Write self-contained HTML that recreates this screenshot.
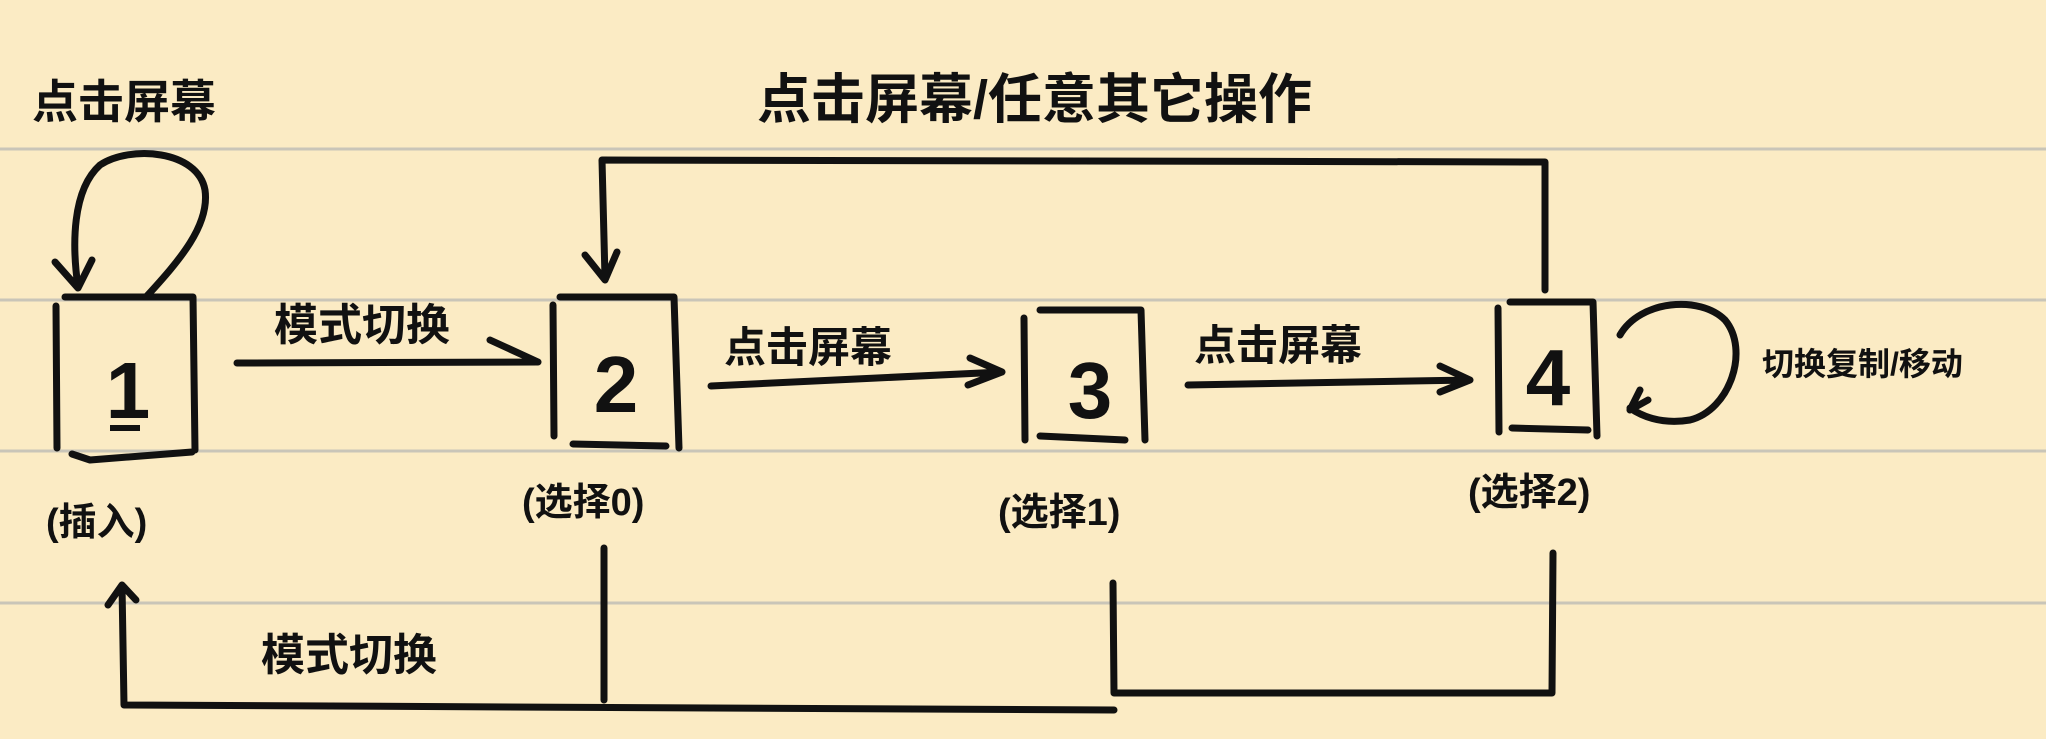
<!DOCTYPE html>
<html><head><meta charset="utf-8"><style>
html,body{margin:0;padding:0;background:#fbebc4;}
svg{display:block}
text{font-family:"Liberation Sans","Noto Sans CJK SC",sans-serif;font-weight:bold;fill:#111}
</style></head><body>
<svg width="2046" height="739" viewBox="0 0 2046 739" xmlns="http://www.w3.org/2000/svg">
<rect width="2046" height="739" fill="#fbebc4"/>
<g stroke="#c9c5b8" stroke-width="3">
<line x1="0" y1="149" x2="2046" y2="149"/>
<line x1="0" y1="300" x2="2046" y2="300"/>
<line x1="0" y1="451" x2="2046" y2="451"/>
<line x1="0" y1="603" x2="2046" y2="603"/>
</g>
<g stroke="#111" stroke-width="7" fill="none" stroke-linecap="round" stroke-linejoin="round">
<!-- box1 -->
<path d="M56 306 L57 448 M65 297 L193 297 L195 450 M72 454 L90 460 L192 452"/>
<!-- box2 -->
<path d="M553 305 L554 436 M560 297 L674 297 L679 448 M573 444 L666 446"/>
<!-- box3 -->
<path d="M1024 318 L1025 440 M1040 310 L1141 310 L1145 440 M1040 436 L1125 440"/>
<!-- box4 -->
<path d="M1498 308 L1499 432 M1510 302 L1593 302 L1597 436 M1512 428 L1588 430"/>
<!-- self loop 1 -->
<path d="M146 297 C180 260 210 225 205 190 C198 150 130 145 100 165 C72 190 72 245 78 287 M55 262 L78 288 L92 260"/>
<!-- arrow 1->2 -->
<path d="M237 363 L538 362 M490 340 L538 362"/>
<!-- top loop -->
<path d="M1545 290 L1545 162 L602 160 L605 278 M585 255 L605 280 L617 252"/>
<!-- arrow 2->3 -->
<path d="M711 386 L1002 372 M970 358 L1002 372 L968 385"/>
<!-- arrow 3->4 -->
<path d="M1188 385 L1470 380 M1440 366 L1470 380 L1440 392"/>
<!-- self loop 4 -->
<path d="M1620 335 C1640 300 1700 295 1725 320 C1750 350 1730 410 1690 420 C1660 425 1640 415 1630 408 M1648 400 L1630 410 L1640 390"/>
<!-- bottom return -->
<path d="M604 548 L604 700 M1113 583 L1114 693 L1552 693 L1553 553 M122 585 L124 705 L1114 710 M108 605 L122 585 L136 600"/>
</g>
<g font-size="80" text-anchor="middle">
<text x="128" y="418">1</text>
<text x="616" y="412">2</text>
<text x="1090" y="418">3</text>
<text x="1548" y="405">4</text>
</g>
<line x1="110" y1="428" x2="140" y2="428" stroke="#111" stroke-width="6"/>
<text x="757" y="118" font-size="54">点击屏幕/任意其它操作</text>
<text x="32" y="118" font-size="46">点击屏幕</text>
<text x="274" y="340" font-size="44">模式切换</text>
<text x="261" y="670" font-size="44">模式切换</text>
<text x="724" y="362" font-size="42">点击屏幕</text>
<text x="1194" y="360" font-size="42">点击屏幕</text>
<text x="1762" y="375" font-size="32">切换复制/移动</text>
<g font-size="38">
<text x="46" y="535">(插入)</text>
<text x="522" y="515">(选择0)</text>
<text x="998" y="525">(选择1)</text>
<text x="1468" y="505">(选择2)</text>
</g>
</svg>
</body></html>
